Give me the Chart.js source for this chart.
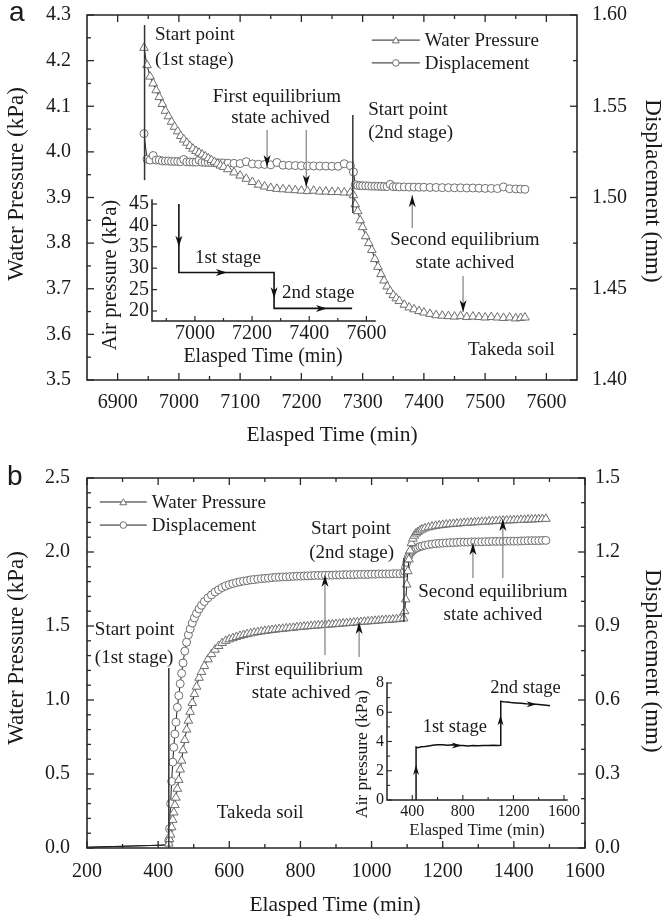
<!DOCTYPE html>
<html><head><meta charset="utf-8">
<script src="https://cdn.jsdelivr.net/npm/chart.js@4/dist/chart.umd.min.js"></script>
<style>
html,body{margin:0;padding:0;background:#fff;}
#wrap{position:relative;width:665px;height:919px;overflow:hidden;background:#fff;}
canvas{position:absolute;}
</style></head><body>
<div id="wrap">
<canvas id="mainA" width="665" height="460" style="left:0;top:0;width:665px;height:460px"></canvas>
<canvas id="insetA" width="303" height="185" style="left:92px;top:185px;width:303px;height:185px"></canvas>
<canvas id="mainB" width="665" height="459" style="left:0;top:460px;width:665px;height:459px"></canvas>
<canvas id="insetB" width="240" height="175" style="left:345px;top:670px;width:240px;height:175px"></canvas>
</div>
<script>
// ---------------- DATA: panel a ----------------
const aTime = [
 6943, 6948, 6953, 6958, 6963, 6968, 6973, 6978, 6983, 6988,
 6993, 6998, 7003, 7008, 7013, 7018, 7023, 7028, 7033, 7038,
 7043, 7048, 7053, 7058, 7063, 7068, 7073, 7080, 7090, 7100,
 7110, 7120, 7130, 7140, 7150, 7160, 7170, 7180, 7190, 7200,
 7210, 7220, 7230, 7240, 7250, 7260, 7270, 7280, 7285, 7288,
 7292, 7296, 7300, 7305, 7310, 7315, 7320, 7325, 7330, 7335,
 7340, 7345, 7350, 7355, 7360, 7368, 7376, 7384, 7392, 7400,
 7410, 7420, 7430, 7440, 7450, 7460, 7470, 7480, 7490, 7500,
 7510, 7520, 7530, 7540, 7550, 7558, 7565
];
const aWater = [
 4.228, 4.190, 4.165, 4.150, 4.135, 4.120, 4.105, 4.090, 4.078, 4.066,
 4.055, 4.045, 4.035, 4.027, 4.020, 4.013, 4.007, 4.002, 3.998, 3.994,
 3.990, 3.986, 3.982, 3.978, 3.974, 3.970, 3.967, 3.962, 3.955, 3.948,
 3.941, 3.934, 3.928, 3.924, 3.921, 3.919, 3.918, 3.917, 3.916, 3.915,
 3.914, 3.915, 3.913, 3.913, 3.912, 3.912, 3.911, 3.911, 3.905, 3.885,
 3.870, 3.850, 3.835, 3.815, 3.800, 3.785, 3.765, 3.748, 3.732, 3.718,
 3.705, 3.695, 3.686, 3.679, 3.673, 3.665, 3.659, 3.655, 3.651, 3.648,
 3.645, 3.642, 3.641, 3.640, 3.639, 3.640, 3.638, 3.639, 3.638, 3.637,
 3.638, 3.637, 3.636, 3.637, 3.635, 3.636, 3.637
];
const aDisp = [
 1.5350, 1.5210, 1.5205, 1.5230, 1.5205, 1.5205, 1.5200, 1.5200, 1.5200, 1.5198,
 1.5198, 1.5197, 1.5196, 1.5208, 1.5195, 1.5195, 1.5194, 1.5194, 1.5205, 1.5193,
 1.5192, 1.5192, 1.5191, 1.5190, 1.5190, 1.5189, 1.5189, 1.5188, 1.5187, 1.5186,
 1.5196, 1.5184, 1.5182, 1.5181, 1.5179, 1.5192, 1.5177, 1.5176, 1.5175, 1.5174,
 1.5173, 1.5173, 1.5172, 1.5172, 1.5171, 1.5171, 1.5185, 1.5174, 1.5140, 1.5070,
 1.5066, 1.5065, 1.5064, 1.5064, 1.5063, 1.5062, 1.5062, 1.5061, 1.5061, 1.5060,
 1.5060, 1.5072, 1.5059, 1.5059, 1.5058, 1.5058, 1.5057, 1.5057, 1.5056, 1.5056,
 1.5055, 1.5055, 1.5054, 1.5054, 1.5053, 1.5053, 1.5052, 1.5052, 1.5051, 1.5050,
 1.5050, 1.5049, 1.5058, 1.5048, 1.5047, 1.5046, 1.5045
];
const airATime = [6944, 6944, 7277, 7277, 7550];
const airAVal  = [45, 29, 29, 20.6, 20.6];

const aXTicks  = [6900, 7000, 7100, 7200, 7300, 7400, 7500, 7600];
const aXMinor  = [6950, 7050, 7150, 7250, 7350, 7450, 7550];
const aYTicks  = [3.5, 3.6, 3.7, 3.8, 3.9, 4.0, 4.1, 4.2, 4.3];
const aYMinor  = [3.55, 3.65, 3.75, 3.85, 3.95, 4.05, 4.15, 4.25];
const aY2Ticks = [1.40, 1.45, 1.50, 1.55, 1.60];
const aY2Minor = [1.425, 1.475, 1.525, 1.575];
const iaXTicks = [7000, 7200, 7400, 7600];
const iaXMinor = [6900, 7100, 7300, 7500];
const iaYTicks = [20, 25, 30, 35, 40, 45];

// ---------------- DATA: panel b ----------------
const bTime = [
 200, 425, 430, 432, 435, 438, 441, 444, 447, 450,
 454, 458, 462, 466, 470, 475, 480, 485, 490, 496,
 502, 508, 515, 522, 530, 540, 550, 560, 570, 580,
 590, 600, 610, 620, 630, 640, 650, 660, 670, 680,
 690, 700, 710, 720, 730, 740, 750, 760, 770, 780,
 790, 800, 810, 820, 830, 840, 850, 860, 870, 880,
 890, 900, 910, 920, 930, 940, 950, 960, 970, 980,
 990, 1000, 1010, 1020, 1030, 1040, 1050, 1060, 1070, 1080,
 1090, 1093, 1096, 1099, 1102, 1105, 1108, 1112, 1116, 1120,
 1125, 1130, 1136, 1142, 1150, 1160, 1170, 1180, 1190, 1200,
 1210, 1220, 1230, 1240, 1250, 1260, 1270, 1280, 1290, 1300,
 1310, 1320, 1330, 1340, 1350, 1360, 1370, 1380, 1390, 1400,
 1410, 1420, 1430, 1440, 1450, 1460, 1470, 1480, 1490
];
const bWater = [
 0.005, 0.020, 0.030, 0.060, 0.090, 0.140, 0.190, 0.240, 0.290, 0.340,
 0.400, 0.460, 0.530, 0.590, 0.660, 0.730, 0.800, 0.860, 0.920, 0.980,
 1.040, 1.090, 1.150, 1.190, 1.230, 1.275, 1.310, 1.340, 1.365, 1.385,
 1.400, 1.410, 1.418, 1.426, 1.433, 1.439, 1.445, 1.450, 1.455, 1.459,
 1.463, 1.467, 1.470, 1.473, 1.476, 1.479, 1.481, 1.484, 1.486, 1.488,
 1.492, 1.494, 1.496, 1.498, 1.500, 1.502, 1.504, 1.506, 1.508, 1.510,
 1.511, 1.513, 1.515, 1.517, 1.519, 1.521, 1.523, 1.525, 1.527, 1.529,
 1.531, 1.533, 1.535, 1.537, 1.539, 1.541, 1.542, 1.544, 1.546, 1.548,
 1.552, 1.600, 1.680, 1.780, 1.870, 1.950, 2.010, 2.060, 2.090, 2.110,
 2.125, 2.135, 2.145, 2.152, 2.160, 2.167, 2.172, 2.177, 2.180, 2.183,
 2.186, 2.188, 2.190, 2.192, 2.194, 2.196, 2.198, 2.199, 2.201, 2.202,
 2.204, 2.205, 2.207, 2.208, 2.209, 2.211, 2.212, 2.213, 2.214, 2.215,
 2.216, 2.217, 2.218, 2.219, 2.220, 2.221, 2.222, 2.223, 2.224
];
const bDisp = [
 0.003, 0.012, 0.030, 0.078, 0.180, 0.270, 0.348, 0.408, 0.462, 0.510,
 0.570, 0.618, 0.666, 0.708, 0.750, 0.798, 0.834, 0.864, 0.888, 0.912,
 0.933, 0.951, 0.969, 0.984, 0.999, 1.014, 1.026, 1.038, 1.047, 1.056,
 1.062, 1.068, 1.072, 1.076, 1.079, 1.082, 1.084, 1.087, 1.088, 1.090,
 1.092, 1.093, 1.094, 1.096, 1.097, 1.098, 1.099, 1.099, 1.100, 1.101,
 1.102, 1.102, 1.103, 1.103, 1.104, 1.105, 1.105, 1.105, 1.106, 1.106,
 1.106, 1.107, 1.107, 1.108, 1.108, 1.108, 1.108, 1.109, 1.109, 1.109,
 1.109, 1.110, 1.110, 1.111, 1.111, 1.111, 1.111, 1.112, 1.112, 1.112,
 1.113, 1.122, 1.140, 1.158, 1.173, 1.185, 1.194, 1.200, 1.206, 1.211,
 1.215, 1.218, 1.222, 1.224, 1.227, 1.230, 1.232, 1.234, 1.235, 1.236,
 1.237, 1.238, 1.238, 1.239, 1.240, 1.240, 1.240, 1.241, 1.241, 1.241,
 1.241, 1.242, 1.242, 1.243, 1.243, 1.243, 1.243, 1.244, 1.244, 1.244,
 1.244, 1.245, 1.245, 1.246, 1.246, 1.246, 1.246, 1.247, 1.247
];
const airBTime = [430, 430, 445, 470, 500, 530, 560, 600, 640, 680,
                  720, 760, 800, 840, 880, 920, 960, 1000, 1040, 1080,
                  1098, 1100, 1120, 1150, 1180, 1220, 1260, 1300, 1340, 1380,
                  1420, 1460, 1490];
const airBVal  = [0, 3.62, 3.58, 3.64, 3.66, 3.70, 3.74, 3.77, 3.78, 3.75,
                  3.77, 3.73, 3.72, 3.70, 3.72, 3.71, 3.73, 3.72, 3.74, 3.73,
                  3.75, 6.75, 6.72, 6.70, 6.66, 6.64, 6.62, 6.58, 6.56, 6.55,
                  6.52, 6.48, 6.45];

const bXTicks  = [200, 400, 600, 800, 1000, 1200, 1400, 1600];
const bXMinor  = [300, 500, 700, 900, 1100, 1300, 1500];
const bYTicks  = [0, 0.5, 1.0, 1.5, 2.0, 2.5];
const bYMinor  = [0.1, 0.2, 0.3, 0.4, 0.6, 0.7, 0.8, 0.9, 1.1, 1.2, 1.3, 1.4, 1.6, 1.7, 1.8, 1.9, 2.1, 2.2, 2.3, 2.4];
const bY2Ticks = [0, 0.3, 0.6, 0.9, 1.2, 1.5];
const bY2Minor = [0.1, 0.2, 0.4, 0.5, 0.7, 0.8, 1.0, 1.1, 1.3, 1.4];
const ibXTicks = [400, 800, 1200, 1600];
const ibXMinor = [600, 1000, 1400];
const ibYTicks = [0, 2, 4, 6, 8];
const ibYMinor = [1, 3, 5, 7];

// ---------------- helpers ----------------
const SERIF = "'Liberation Serif','Times New Roman',serif";
const SANS = "'Liberation Sans',Arial,sans-serif";
const INK = '#1a1a1a';
const FRAME = '#262626';

function pairs(times, vals) { return times.map((t, i) => ({ x: t, y: vals[i] })); }
function fixBox(size) {
  return function (s) {
    if (s.isHorizontal()) s.height = size; else s.width = size;
    s.paddingLeft = 0; s.paddingRight = 0; s.paddingTop = 0; s.paddingBottom = 0;
  };
}
function setTicks(list) { return function (s) { s.ticks = list.map(v => ({ value: v })); }; }
function axis(o) {
  return {
    type: 'linear', position: o.position, min: o.min, max: o.max,
    afterBuildTicks: setTicks(o.ticks),
    afterFit: fixBox(o.size),
    grid: { display: false, drawTicks: false },
    border: { display: false },
    ticks: { font: { family: SERIF, size: o.fontSize }, color: INK, padding: o.pad,
             autoSkip: false, maxRotation: 0, minRotation: 0, callback: v => o.fmt(v) },
    title: { display: false }
  };
}
function head(ctx, x, y, ang, L, W) {
  const c = Math.cos(ang), s = Math.sin(ang);
  const bx = x - c * L, by = y - s * L;
  const nx = -s * W / 2, ny = c * W / 2;
  const mx = x - c * L * 0.72, my = y - s * L * 0.72;
  ctx.beginPath(); ctx.moveTo(x, y); ctx.lineTo(bx + nx, by + ny); ctx.lineTo(mx, my);
  ctx.lineTo(bx - nx, by - ny); ctx.closePath(); ctx.fill();
}
function marker(ctx, style, cx, cy, r) {
  ctx.beginPath();
  if (style === 'triangle') {
    for (let k = 0; k < 3; k++) {
      const a = -Math.PI / 2 + k * 2 * Math.PI / 3;
      const px = cx + Math.cos(a) * r, py = cy + Math.sin(a) * r + r * 0.2;
      if (k === 0) ctx.moveTo(px, py); else ctx.lineTo(px, py);
    }
    ctx.closePath();
  } else ctx.arc(cx, cy, r, 0, Math.PI * 2);
  ctx.fillStyle = '#fff'; ctx.fill(); ctx.strokeStyle = '#6e6e6e'; ctx.lineWidth = 1; ctx.stroke();
}
const DIRS = { up: -Math.PI / 2, down: Math.PI / 2, right: 0, left: Math.PI };

function decor(spec) {
  return {
    id: 'decor',
    afterDraw(chart) {
      const ctx = chart.ctx, A = chart.chartArea, S = chart.scales;
      const X = v => S.x.getPixelForValue(v);
      const Y = (v, id) => S[id || 'y'].getPixelForValue(v);
      ctx.save();
      // frame
      ctx.strokeStyle = FRAME; ctx.lineWidth = spec.frameWidth; ctx.lineCap = 'square';
      ctx.beginPath();
      if (spec.box) ctx.rect(A.left, A.top, A.right - A.left, A.bottom - A.top);
      else { ctx.moveTo(A.left, A.top); ctx.lineTo(A.left, A.bottom); ctx.lineTo(A.right, A.bottom); }
      ctx.stroke();
      ctx.lineCap = 'butt';
      // ticks (inward)
      ctx.lineWidth = spec.tickWidth;
      spec.ticks.forEach(ts => {
        const sc = S[ts.scale];
        ts.values.forEach(v => {
          const p = sc.getPixelForValue(v);
          ts.sides.forEach(side => {
            ctx.beginPath();
            if (side === 'bottom') { ctx.moveTo(p, A.bottom); ctx.lineTo(p, A.bottom - ts.len); }
            else if (side === 'top') { ctx.moveTo(p, A.top); ctx.lineTo(p, A.top + ts.len); }
            else if (side === 'left') { ctx.moveTo(A.left, p); ctx.lineTo(A.left + ts.len, p); }
            else { ctx.moveTo(A.right, p); ctx.lineTo(A.right - ts.len, p); }
            ctx.stroke();
          });
        });
      });
      // plain vertical lines
      (spec.lines || []).forEach(l => {
        ctx.strokeStyle = l.color || '#333'; ctx.lineWidth = l.width || 1.5;
        ctx.beginPath(); ctx.moveTo(X(l.x), Y(l.y1)); ctx.lineTo(X(l.x), Y(l.y2)); ctx.stroke();
      });
      // arrows
      (spec.arrows || []).forEach(a => {
        const x1 = X(a.x1), y1 = Y(a.y1), x2 = X(a.x2), y2 = Y(a.y2);
        ctx.strokeStyle = '#8a8a8a'; ctx.lineWidth = 1.3;
        ctx.beginPath(); ctx.moveTo(x1, y1); ctx.lineTo(x2, y2); ctx.stroke();
        ctx.fillStyle = '#111';
        head(ctx, x2, y2, Math.atan2(y2 - y1, x2 - x1), 12, 7);
      });
      // arrow heads on the line
      (spec.heads || []).forEach(h => {
        ctx.fillStyle = '#111';
        head(ctx, X(h.x), Y(h.y), DIRS[h.dir], spec.headL, spec.headW);
      });
      // legend
      if (spec.legend) {
        const lg = spec.legend;
        lg.items.forEach(it => {
          const x0 = X(lg.x), y0 = Y(it.y);
          ctx.strokeStyle = '#222'; ctx.lineWidth = 1;
          ctx.beginPath(); ctx.moveTo(x0, y0); ctx.lineTo(x0 + lg.w, y0); ctx.stroke();
          marker(ctx, it.style, x0 + lg.w / 2, y0, it.r);
          ctx.fillStyle = INK; ctx.font = lg.size + 'px ' + SERIF;
          ctx.textAlign = 'left'; ctx.textBaseline = 'middle';
          ctx.fillText(it.text, x0 + lg.w + 5, y0 + 1);
        });
      }
      // texts
      (spec.texts || []).forEach(t => {
        ctx.font = (t.size || spec.textSize) + 'px ' + (t.font || SERIF);
        ctx.fillStyle = INK; ctx.textAlign = t.al || 'center';
        ctx.textBaseline = t.base || 'middle';
        const px = t.px ? t.x : X(t.x), py = t.px ? t.y : Y(t.y);
        if (t.rot) { ctx.save(); ctx.translate(px, py); ctx.rotate(t.rot * Math.PI / 180); ctx.fillText(t.t, 0, 0); ctx.restore(); }
        else ctx.fillText(t.t, px, py);
      });
      ctx.restore();
    }
  };
}
const common = {
  responsive: false, animation: false, devicePixelRatio: 1, events: [],
  plugins: { legend: { display: false }, tooltip: { enabled: false } }
};
function seriesStyle(style, r, hideFirst) {
  return {
    pointStyle: style,
    pointRadius: hideFirst ? (c => c.dataIndex < hideFirst ? 0 : r) : r,
    borderColor: '#1e1e1e', borderWidth: 1,
    pointBorderColor: '#6e6e6e', pointBackgroundColor: '#ffffff', pointBorderWidth: 1,
    tension: 0, fill: false
  };
}

// ---------------- panel a ----------------
new Chart(document.getElementById('mainA'), {
  type: 'line',
  data: { datasets: [
    Object.assign({ label: 'Water Pressure', data: pairs(aTime, aWater), yAxisID: 'y' }, seriesStyle('triangle', 5)),
    Object.assign({ label: 'Displacement', data: pairs(aTime, aDisp), yAxisID: 'y2' }, seriesStyle('circle', 4))
  ]},
  options: Object.assign({}, common, {
    layout: { padding: { top: 15, left: 0, right: 0, bottom: 0 } },
    scales: {
      x: axis({ position: 'bottom', min: 6850, max: 7650, ticks: aXTicks, size: 80, fontSize: 20, pad: 11, fmt: v => String(v) }),
      y: axis({ position: 'left', min: 3.5, max: 4.3, ticks: aYTicks, size: 87, fontSize: 20, pad: 16, fmt: v => v.toFixed(1) }),
      y2: axis({ position: 'right', min: 1.40, max: 1.60, ticks: aY2Ticks, size: 88, fontSize: 20, pad: 15, fmt: v => v.toFixed(2) })
    }
  }),
  plugins: [decor({
    box: true, frameWidth: 1.6, tickWidth: 1.3, textSize: 19,
    ticks: [
      { scale: 'x', values: aXTicks, len: 7, sides: ['bottom', 'top'] },
      { scale: 'x', values: aXMinor, len: 4, sides: ['bottom', 'top'] },
      { scale: 'y', values: aYTicks, len: 7, sides: ['left'] },
      { scale: 'y', values: aYMinor, len: 4, sides: ['left'] },
      { scale: 'y2', values: aY2Ticks, len: 7, sides: ['right'] },
      { scale: 'y2', values: aY2Minor, len: 4, sides: ['right'] }
    ],
    lines: [
      { x: 6944, y1: 4.278, y2: 3.938 },
      { x: 7284, y1: 4.081, y2: 3.866 }
    ],
    arrows: [
      { x1: 7144, y1: 4.048, x2: 7144, y2: 3.967 },
      { x1: 7208, y1: 4.048, x2: 7208, y2: 3.923 },
      { x1: 7381, y1: 3.833, x2: 7381, y2: 3.905 },
      { x1: 7464, y1: 3.728, x2: 7464, y2: 3.649 }
    ],
    legend: { x: 7315, w: 48, size: 19, items: [
      { text: 'Water Pressure', y: 4.245, style: 'triangle', r: 4 },
      { text: 'Displacement', y: 4.195, style: 'circle', r: 3.3 }
    ]},
    texts: [
      { t: 'Start point', x: 6961, y: 4.256, al: 'left' },
      { t: '(1st stage)', x: 6961, y: 4.201, al: 'left' },
      { t: 'First equilibrium', x: 7160, y: 4.12 },
      { t: 'state achived', x: 7166, y: 4.074 },
      { t: 'Start point', x: 7309, y: 4.092, al: 'left' },
      { t: '(2nd stage)', x: 7309, y: 4.041, al: 'left' },
      { t: 'Second equilibrium', x: 7467, y: 3.807 },
      { t: 'state achived', x: 7467, y: 3.756 },
      { t: 'Takeda soil', x: 7472, y: 3.566, al: 'left' },
      { t: 'Water Pressure (kPa)', px: true, x: 17, y: 184, rot: -90, size: 23 },
      { t: 'Displacement (mm)', px: true, x: 652, y: 191, rot: 90, size: 23 },
      { t: 'Elasped Time (min)', px: true, x: 332, y: 435, size: 21.5 },
      { t: 'a', px: true, x: 9, y: 21, al: 'left', base: 'alphabetic', size: 28, font: SANS }
    ]
  })]
});

new Chart(document.getElementById('insetA'), {
  type: 'line',
  data: { datasets: [{ data: pairs(airATime, airAVal), borderColor: '#111', borderWidth: 1.6, pointRadius: 0, tension: 0, fill: false }] },
  options: Object.assign({}, common, {
    layout: { padding: { top: 15, left: 0, right: 20, bottom: 0 } },
    scales: {
      x: axis({ position: 'bottom', min: 6850, max: 7630, ticks: iaXTicks, size: 49, fontSize: 20, pad: 1, fmt: v => String(v) }),
      y: axis({ position: 'left', min: 17.66, max: 45.93, ticks: iaYTicks, size: 60, fontSize: 20, pad: 3, fmt: v => String(v) })
    }
  }),
  plugins: [decor({
    box: false, frameWidth: 1.6, tickWidth: 1.2, textSize: 19, headL: 11, headW: 7,
    ticks: [
      { scale: 'x', values: iaXTicks, len: 5, sides: ['bottom'] },
      { scale: 'x', values: iaXMinor, len: 3, sides: ['bottom'] },
      { scale: 'y', values: iaYTicks, len: 5, sides: ['left'] }
    ],
    heads: [
      { x: 6944, y: 35, dir: 'down' },
      { x: 7112, y: 29, dir: 'right' },
      { x: 7277, y: 23, dir: 'down' },
      { x: 7462, y: 20.6, dir: 'right' }
    ],
    texts: [
      { t: '1st stage', x: 7000, y: 32.4, al: 'left' },
      { t: '2nd stage', x: 7305, y: 24.2, al: 'left' },
      { t: 'Elasped Time (min)', px: true, x: 171, y: 172, size: 20 },
      { t: 'Air pressure (kPa)', px: true, x: 19, y: 90, rot: -90, size: 20.5 }
    ]
  })]
});

// ---------------- panel b ----------------
new Chart(document.getElementById('mainB'), {
  type: 'line',
  data: { datasets: [
    Object.assign({ label: 'Water Pressure', data: pairs(bTime, bWater), yAxisID: 'y' }, seriesStyle('triangle', 5, 2)),
    Object.assign({ label: 'Displacement', data: pairs(bTime, bDisp), yAxisID: 'y2' }, seriesStyle('circle', 4, 2))
  ]},
  options: Object.assign({}, common, {
    layout: { padding: { top: 18, left: 0, right: 0, bottom: 0 } },
    scales: {
      x: axis({ position: 'bottom', min: 200, max: 1600, ticks: bXTicks, size: 71, fontSize: 20, pad: 12, fmt: v => String(v) }),
      y: axis({ position: 'left', min: 0, max: 2.5, ticks: bYTicks, size: 87, fontSize: 20, pad: 17, fmt: v => v.toFixed(1) }),
      y2: axis({ position: 'right', min: 0, max: 1.5, ticks: bY2Ticks, size: 80, fontSize: 20, pad: 10, fmt: v => v.toFixed(1) })
    }
  }),
  plugins: [decor({
    box: true, frameWidth: 1.6, tickWidth: 1.3, textSize: 19,
    ticks: [
      { scale: 'x', values: bXTicks, len: 7, sides: ['bottom', 'top'] },
      { scale: 'x', values: bXMinor, len: 4, sides: ['bottom', 'top'] },
      { scale: 'y', values: bYTicks, len: 7, sides: ['left'] },
      { scale: 'y', values: bYMinor, len: 4, sides: ['left'] },
      { scale: 'y2', values: bY2Ticks, len: 7, sides: ['right'] },
      { scale: 'y2', values: bY2Minor, len: 4, sides: ['right'] }
    ],
    lines: [
      { x: 430, y1: 1.216, y2: 0 },
      { x: 1091, y1: 1.96, y2: 1.527 }
    ],
    arrows: [
      { x1: 869, y1: 1.304, x2: 869, y2: 1.845 },
      { x1: 965, y1: 1.29, x2: 965, y2: 1.527 },
      { x1: 1285, y1: 1.824, x2: 1285, y2: 2.06 },
      { x1: 1369, y1: 1.824, x2: 1369, y2: 2.223 }
    ],
    legend: { x: 236, w: 47, size: 19, items: [
      { text: 'Water Pressure', y: 2.338, style: 'triangle', r: 4 },
      { text: 'Displacement', y: 2.182, style: 'circle', r: 3.3 }
    ]},
    texts: [
      { t: 'Start point', x: 222, y: 1.473, al: 'left' },
      { t: '(1st stage)', x: 222, y: 1.284, al: 'left' },
      { t: 'Start point', x: 942, y: 2.155 },
      { t: '(2nd stage)', x: 944, y: 1.995 },
      { t: 'First equilibrium', x: 796, y: 1.203 },
      { t: 'state achived', x: 802, y: 1.047 },
      { t: 'Second equilibrium', x: 1341, y: 1.73 },
      { t: 'state achived', x: 1341, y: 1.574 },
      { t: 'Takeda soil', x: 565, y: 0.236, al: 'left' },
      { t: 'Water Pressure (kPa)', px: true, x: 17, y: 188, rot: -90, size: 23 },
      { t: 'Displacement (mm)', px: true, x: 652, y: 201, rot: 90, size: 23 },
      { t: 'Elasped Time (min)', px: true, x: 335, y: 445, size: 21.5 },
      { t: 'b', px: true, x: 7, y: 25, al: 'left', base: 'alphabetic', size: 28, font: SANS }
    ]
  })]
});

new Chart(document.getElementById('insetB'), {
  type: 'line',
  data: { datasets: [{ data: pairs(airBTime, airBVal), borderColor: '#111', borderWidth: 1.5, pointRadius: 0, tension: 0, fill: false }] },
  options: Object.assign({}, common, {
    layout: { padding: { top: 13, left: 0, right: 18, bottom: 0 } },
    scales: {
      x: axis({ position: 'bottom', min: 200, max: 1624, ticks: ibXTicks, size: 45, fontSize: 16, pad: 2, fmt: v => String(v) }),
      y: axis({ position: 'left', min: 0, max: 8, ticks: ibYTicks, size: 42, fontSize: 16, pad: 3, fmt: v => String(v) })
    }
  }),
  plugins: [decor({
    box: false, frameWidth: 1.5, tickWidth: 1.1, textSize: 18.5, headL: 10, headW: 6,
    ticks: [
      { scale: 'x', values: ibXTicks, len: 5, sides: ['bottom'] },
      { scale: 'x', values: ibXMinor, len: 3, sides: ['bottom'] },
      { scale: 'y', values: ibYTicks, len: 5, sides: ['left'] },
      { scale: 'y', values: ibYMinor, len: 3, sides: ['left'] }
    ],
    heads: [
      { x: 430, y: 2.4, dir: 'up' },
      { x: 792, y: 3.72, dir: 'right' },
      { x: 1098, y: 5.8, dir: 'up' },
      { x: 1384, y: 6.55, dir: 'right' }
    ],
    texts: [
      { t: '1st stage', x: 736, y: 4.99 },
      { t: '2nd stage', x: 1296, y: 7.66 },
      { t: 'Elasped Time (min)', px: true, x: 132, y: 161, size: 17 },
      { t: 'Air pressure (kPa)', px: true, x: 17, y: 84, rot: -90, size: 17.5 }
    ]
  })]
});
</script>
</body></html>
